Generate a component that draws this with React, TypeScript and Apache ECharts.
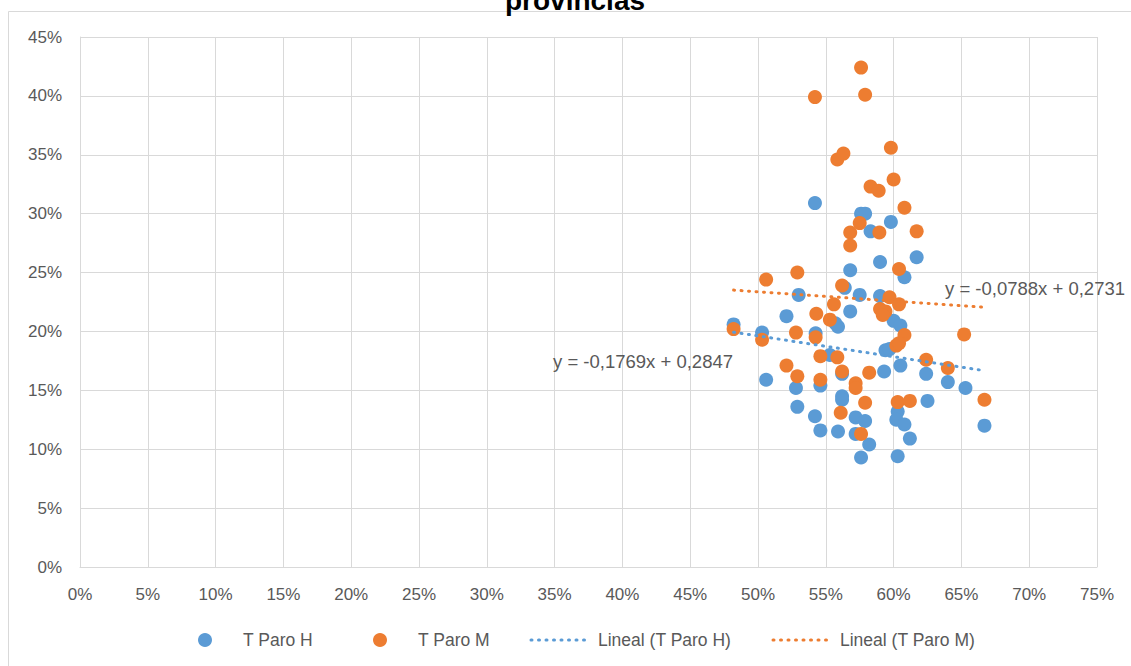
import React, { useEffect, useRef } from "react";
import * as echarts from "echarts";

// T Paro H (x = tasa actividad %, y = tasa paro %)
const paroH: [number, number][] = [
  [48.2, 20.6], [50.3, 19.9], [50.6, 15.9], [52.1, 21.3], [52.8, 15.2], [52.9, 13.6],
  [53.0, 23.1], [54.2, 30.9], [54.25, 19.85], [54.2, 12.8], [54.6, 15.4], [54.6, 11.6],
  [55.3, 18.0], [55.7, 20.7], [55.9, 20.4], [55.9, 11.5], [56.2, 14.5], [56.2, 14.2],
  [56.2, 16.4], [56.4, 23.7], [56.8, 25.2], [56.8, 21.7], [57.2, 12.7], [57.2, 11.3],
  [57.5, 23.1], [57.6, 30.0], [57.9, 30.0], [57.9, 12.4], [57.6, 9.3], [58.3, 28.5],
  [58.2, 10.4], [59.0, 25.9], [59.0, 23.0], [59.3, 16.6], [59.4, 18.4], [59.7, 18.5],
  [59.8, 29.3], [60.0, 20.9], [60.5, 20.5], [60.3, 13.2], [60.2, 12.5], [60.3, 9.4],
  [60.5, 17.1], [60.8, 24.6], [60.8, 12.1], [61.2, 10.9], [61.7, 26.3], [62.4, 16.4],
  [62.5, 14.1], [64.0, 15.7], [65.3, 15.2], [66.7, 12.0],
];

// T Paro M
const paroM: [number, number][] = [
  [48.2, 20.2], [50.3, 19.3], [50.6, 24.4], [52.1, 17.1], [52.8, 19.9], [52.9, 25.0],
  [52.9, 16.2], [54.2, 39.9], [54.25, 19.5], [54.3, 21.5], [54.6, 17.9], [54.6, 15.9],
  [55.3, 21.0], [55.6, 22.3], [55.85, 34.6], [55.85, 17.8], [56.2, 23.9], [56.3, 35.1],
  [56.2, 16.6], [56.1, 13.1], [56.8, 28.4], [56.8, 27.3], [57.2, 15.6], [57.2, 15.2],
  [57.5, 29.2], [57.6, 42.4], [57.6, 11.3], [57.9, 40.1], [57.9, 13.95], [58.3, 32.3],
  [58.2, 16.5], [58.9, 31.95], [58.95, 28.4], [59.0, 21.9], [59.4, 21.7], [59.2, 21.4],
  [59.7, 22.9], [59.8, 35.6], [60.0, 32.9], [60.4, 25.3], [60.4, 22.3], [60.8, 30.5],
  [60.8, 19.7], [60.2, 18.8], [60.4, 19.0], [60.3, 14.0], [61.2, 14.1], [61.7, 28.5],
  [62.4, 17.6], [64.0, 16.9], [65.2, 19.75], [66.7, 14.2],
];

// Trendline end points (from the chart's equations)
const trendH: [number, number][] = [[48.2, 19.94], [66.7, 16.67]];
const trendM: [number, number][] = [[48.2, 23.51], [66.7, 22.05]];

const eqH = "y = -0,1769x + 0,2847";
const eqM = "y = -0,0788x + 0,2731";

const legendNames = ["T Paro H", "T Paro M", "Lineal (T Paro H)", "Lineal (T Paro M)"];

const BLUE = "#5B9BD5";
const ORANGE = "#ED7D31";
const GRID = "#d9d9d9";
const TEXT = "#595959";
const FONT = "'Liberation Sans', Arial, sans-serif";

export default function App() {
  const ref = useRef<HTMLDivElement>(null);

  useEffect(() => {
    if (!ref.current) return;
    const chart = echarts.init(ref.current, null, { renderer: "svg" });
    const dotted = { width: 3, type: [1, 6.5] as number[], cap: "round" as const };
    chart.setOption({
      animation: false,
      textStyle: { fontFamily: FONT },
      grid: { left: 80, right: 34, top: 37, bottom: 99, containLabel: false },
      xAxis: {
        type: "value",
        min: 0,
        max: 75,
        interval: 5,
        axisLine: { show: true, lineStyle: { color: GRID } },
        axisTick: { show: false },
        splitLine: { show: true, lineStyle: { color: GRID, width: 1 } },
        axisLabel: { formatter: "{value}%", color: TEXT, fontSize: 17, margin: 19, fontFamily: FONT },
      },
      yAxis: {
        type: "value",
        min: 0,
        max: 45,
        interval: 5,
        axisLine: { show: true, lineStyle: { color: GRID } },
        axisTick: { show: false },
        splitLine: { show: true, lineStyle: { color: GRID, width: 1 } },
        axisLabel: { formatter: "{value}%", color: TEXT, fontSize: 17, margin: 18, fontFamily: FONT },
      },
      series: [
        {
          name: legendNames[0],
          type: "scatter",
          data: paroH,
          symbolSize: 14,
          itemStyle: { color: BLUE, opacity: 1 },
          z: 2,
        },
        {
          name: legendNames[1],
          type: "scatter",
          data: paroM,
          symbolSize: 14,
          itemStyle: { color: ORANGE, opacity: 1 },
          z: 3,
        },
        {
          name: legendNames[2],
          type: "line",
          data: trendH,
          symbol: "none",
          lineStyle: { ...dotted, color: BLUE },
          z: 4,
        },
        {
          name: legendNames[3],
          type: "line",
          data: trendM,
          symbol: "none",
          lineStyle: { ...dotted, color: ORANGE },
          z: 4,
        },
      ],
      graphic: [
        {
          type: "rect",
          shape: { x: 8.5, y: 11.5, width: 1140, height: 700 },
          style: { fill: "none", stroke: GRID, lineWidth: 1 },
          silent: true,
          z: -10,
        },
        {
          type: "text",
          x: 575,
          y: 14,
          style: {
            text: "provincias",
            font: `bold 28px ${FONT}`,
            fill: "#000",
            textAlign: "center",
            textVerticalAlign: "bottom",
          },
        },
        {
          type: "text",
          x: 553,
          y: 361,
          style: { text: eqH, font: `18.5px ${FONT}`, fill: TEXT, textAlign: "left", textVerticalAlign: "middle" },
          z: 10,
        },
        {
          type: "text",
          x: 945,
          y: 288,
          style: { text: eqM, font: `18.5px ${FONT}`, fill: TEXT, textAlign: "left", textVerticalAlign: "middle" },
          z: 10,
        },
        // legend
        { type: "circle", shape: { cx: 205, cy: 640, r: 7 }, style: { fill: BLUE } },
        {
          type: "text", x: 243, y: 640,
          style: { text: legendNames[0], font: `17.5px ${FONT}`, fill: TEXT, textVerticalAlign: "middle" },
        },
        { type: "circle", shape: { cx: 380, cy: 640, r: 7 }, style: { fill: ORANGE } },
        {
          type: "text", x: 418, y: 640,
          style: { text: legendNames[1], font: `17.5px ${FONT}`, fill: TEXT, textVerticalAlign: "middle" },
        },
        {
          type: "line", shape: { x1: 531, y1: 640, x2: 585, y2: 640 },
          style: { stroke: BLUE, lineWidth: 3, lineDash: [1, 6.5], lineCap: "round" },
        },
        {
          type: "text", x: 598, y: 640,
          style: { text: legendNames[2], font: `17.5px ${FONT}`, fill: TEXT, textVerticalAlign: "middle" },
        },
        {
          type: "line", shape: { x1: 773, y1: 640, x2: 827, y2: 640 },
          style: { stroke: ORANGE, lineWidth: 3, lineDash: [1, 6.5], lineCap: "round" },
        },
        {
          type: "text", x: 840, y: 640,
          style: { text: legendNames[3], font: `17.5px ${FONT}`, fill: TEXT, textVerticalAlign: "middle" },
        },
      ],
    });
    return () => chart.dispose();
  }, []);

  return (
    <div
      ref={ref}
      style={{ position: "absolute", left: 0, top: 0, width: 1131, height: 666, background: "#fff" }}
    />
  );
}
